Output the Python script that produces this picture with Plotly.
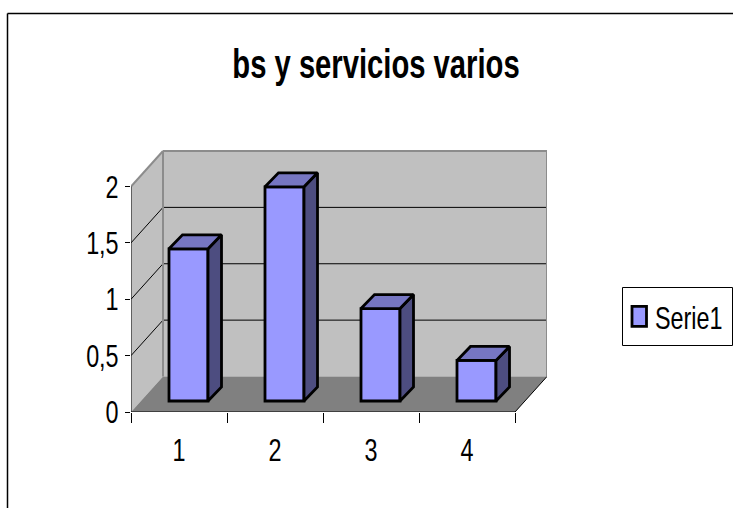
import plotly.graph_objects as go

categories = [1, 2, 3, 4]
values = [1.35, 1.9, 0.82, 0.36]
y_ticks = [0, 0.5, 1, 1.5, 2]
y_labels = ["0", "0,5", "1", "1,5", "2"]
title = "bs y servicios varios"
series_name = "Serie1"

FONT = "Liberation Sans"
W, H = 733, 508
L, R, T, B = 131, 547, 149, 412   # plot box in pixels

# pixels per unit of the front axes
PX_X = 96
PX_Y = 112.75

x0 = 0.5
x1 = x0 + 4
x_max = x0 + (R - L) / PX_X
y_max = (B - T) / PX_Y

# wall depth and bar depth, in axis units
DX = 32 / PX_X
DY = 35.5 / PX_Y
BAR_W = 39 / PX_X
BAR_DX = 13.5 / PX_X
BAR_DY = 14 / PX_Y
BAR_SHIFT = 9.5 / PX_X
BAR_BASE = 11 / PX_Y

FRONT = "#9999FF"
TOP = "#7676C2"
SIDE = "#4D4D80"
WALL = "#C0C0C0"
FLOOR = "#808080"
EDGE = "#8C8C8C"

# no narrow font is installed, so the text is squeezed sideways after drawing
# the legend swatch is taller than plotly's square as well
POST_JS = """
document.body.style.margin = '0';
document.querySelectorAll('.main-svg text').forEach(function (t) {
    var w = t.getComputedTextLength();
    t.setAttribute('lengthAdjust', 'spacingAndGlyphs');
    t.setAttribute('textLength', w * 0.73);
});
document.querySelectorAll('.legendpoints path').forEach(function (p) {
    p.setAttribute('d', 'M11.5,10H-3V-10H11.5Z');
});
"""


def poly(points):
    return "M " + " L ".join(f"{x} {y}" for x, y in points) + " Z"


def px_x(p):
    return (p - L) / (R - L)


def px_y(p):
    return (B - p) / (B - T)


shapes = [
    # left wall, back wall, floor
    dict(type="path", layer="below", fillcolor=WALL, line=dict(width=0),
         path=poly([(x0, 0), (x0 + DX, DY), (x0 + DX, 2 + DY), (x0, 2)])),
    dict(type="path", layer="below", fillcolor=WALL, line=dict(width=0),
         path=poly([(x0 + DX, DY), (x1 + DX, DY), (x1 + DX, 2 + DY), (x0 + DX, 2 + DY)])),
    dict(type="path", layer="below", fillcolor=FLOOR, line=dict(width=0),
         path=poly([(x0, 0), (x1, 0), (x1 + DX, DY), (x0 + DX, DY)])),
]

# gridlines running over left wall and back wall
for t in y_ticks[1:-1]:
    shapes.append(dict(type="line", layer="below", x0=x0, y0=t, x1=x0 + DX, y1=t + DY,
                       line=dict(color="#000000", width=1)))
    shapes.append(dict(type="line", layer="below", x0=x0 + DX, y0=t + DY, x1=x1 + DX, y1=t + DY,
                       line=dict(color="#000000", width=1)))

# grey wall edges
for a, b in [((x0, 2), (x0 + DX, 2 + DY)),
             ((x0 + DX, 2 + DY), (x1 + DX, 2 + DY)),
             ((x0 + DX, DY), (x0 + DX, 2 + DY)),
             ((x1 + DX, DY), (x1 + DX, 2 + DY))]:
    shapes.append(dict(type="line", layer="below", x0=a[0], y0=a[1], x1=b[0], y1=b[1],
                       line=dict(color=EDGE, width=2)))

# front axis lines and the floor's right edge
shapes.append(dict(type="line", layer="below", x0=x0, y0=0, x1=x0, y1=2,
                   line=dict(color="#000000", width=1)))
shapes.append(dict(type="line", layer="below", x0=x0, y0=0, x1=x1, y1=0,
                   line=dict(color="#000000", width=1)))
shapes.append(dict(type="line", layer="below", x0=x1, y0=0, x1=x1 + DX, y1=DY,
                   line=dict(color="#000000", width=1)))

# chart area border, it runs off the page on the right and at the bottom
shapes.append(dict(type="line", xref="paper", yref="paper",
                   x0=px_x(7.5), y0=px_y(13.5), x1=px_x(W + 5), y1=px_y(13.5),
                   line=dict(color="#000000", width=1.5)))
shapes.append(dict(type="line", xref="paper", yref="paper",
                   x0=px_x(7.5), y0=px_y(13.5), x1=px_x(7.5), y1=px_y(H + 5),
                   line=dict(color="#000000", width=1.5)))

# legend box
shapes.append(dict(type="rect", xref="paper", yref="paper",
                   x0=px_x(622.5), y0=px_y(287.5), x1=px_x(732.5), y1=px_y(345.5),
                   line=dict(color="#000000", width=1)))

fig = go.Figure()

fig.add_trace(go.Bar(
    x=[c + BAR_SHIFT for c in categories],
    y=values,
    base=BAR_BASE,
    width=BAR_W,
    name=series_name,
    marker=dict(color=FRONT, line=dict(color="#000000", width=2.8)),
))

for c, v in zip(categories, values):
    left = c + BAR_SHIFT - BAR_W / 2
    right = c + BAR_SHIFT + BAR_W / 2
    low = BAR_BASE
    high = BAR_BASE + v
    fig.add_trace(go.Scatter(
        x=[right, right + BAR_DX, right + BAR_DX, right, right],
        y=[low, low + BAR_DY, high + BAR_DY, high, low],
        mode="lines", fill="toself", fillcolor=SIDE,
        line=dict(color="#000000", width=2.8), showlegend=False, hoverinfo="skip",
    ))
    fig.add_trace(go.Scatter(
        x=[left, right, right + BAR_DX, left + BAR_DX, left],
        y=[high, high, high + BAR_DY, high + BAR_DY, high],
        mode="lines", fill="toself", fillcolor=TOP,
        line=dict(color="#000000", width=2.8), showlegend=False, hoverinfo="skip",
    ))

fig.update_layout(
    width=W,
    height=H,
    autosize=False,
    paper_bgcolor="white",
    plot_bgcolor="white",
    font=dict(family=FONT, color="#000000", size=32),
    margin=dict(l=L, r=W - R, t=T, b=H - B, pad=0),
    shapes=shapes,
    title=dict(
        text=title,
        x=376 / W,
        y=1 - 64 / H,
        xanchor="center",
        yanchor="middle",
        font=dict(family=FONT, size=40, color="#000000", weight="bold"),
    ),
    xaxis=dict(
        range=[x0, x_max],
        tickmode="array",
        tickvals=categories,
        ticktext=[str(c) for c in categories],
        ticks="outside",
        ticklen=10,
        tickcolor="rgba(0,0,0,0)",
        showgrid=False,
        zeroline=False,
        showline=False,
        minor=dict(
            tickmode="array",
            tickvals=[x0 + i for i in range(5)],
            ticks="outside",
            ticklen=10,
            tickwidth=1,
            tickcolor="#000000",
            showgrid=False,
        ),
    ),
    yaxis=dict(
        range=[0, y_max],
        tickmode="array",
        tickvals=y_ticks,
        ticktext=y_labels,
        ticks="outside",
        ticklen=5,
        tickwidth=1,
        tickcolor="#000000",
        showgrid=False,
        zeroline=False,
        showline=False,
    ),
    showlegend=True,
    legend=dict(
        x=615 / W,
        y=1 - 316.5 / H,
        xref="container",
        yref="container",
        xanchor="left",
        yanchor="middle",
        borderwidth=0,
        bgcolor="rgba(0,0,0,0)",
        entrywidth=70,
        entrywidthmode="pixels",
        font=dict(family=FONT, size=32, color="#000000"),
    ),
)

fig.write_html("out.html", post_script=POST_JS, config=dict(displayModeBar=False))
